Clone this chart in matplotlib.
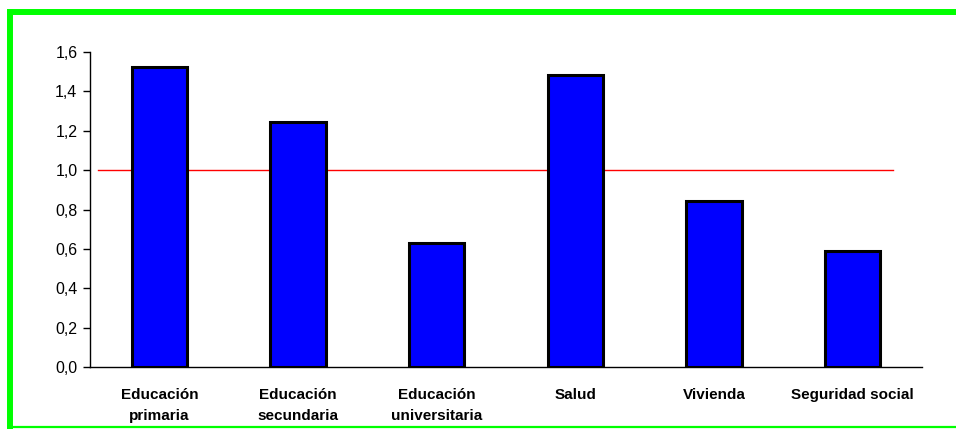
import matplotlib
matplotlib.use("Agg")
import matplotlib.pyplot as plt
from matplotlib.lines import Line2D

categories = ["Educación\nprimaria", "Educación\nsecundaria", "Educación\nuniversitaria",
              "Salud", "Vivienda", "Seguridad social"]
values = [1.525, 1.245, 0.632, 1.485, 0.843, 0.59]
reference_value = 1.0
yticks = [0.0, 0.2, 0.4, 0.6, 0.8, 1.0, 1.2, 1.4, 1.6]
ytick_labels = ["0,0", "0,2", "0,4", "0,6", "0,8", "1,0", "1,2", "1,4", "1,6"]

plt.rcParams['font.family'] = ['Liberation Sans', 'DejaVu Sans']

W, H = 956, 429
fig = plt.figure(figsize=(W / 100, H / 100), dpi=100)
fig.patch.set_facecolor('white')

ax = fig.add_axes([90 / W, 1 - 367 / H, (922 - 90) / W, (367 - 52) / H])
x = list(range(len(categories)))
ax.bar(x, values, width=0.4, color='#0000FF', edgecolor='black', linewidth=2.2, zorder=3)
ax.plot([-0.44, 5.29], [reference_value, reference_value], color='#FF0000', linewidth=1.0, zorder=2)

ax.set_xlim(-0.5, 5.5)
ax.set_ylim(0, 1.6)
ax.set_yticks(yticks)
ax.set_yticklabels(ytick_labels, fontsize=11.5)
ax.set_xticks(x)
ax.set_xticklabels(categories, fontsize=11, fontweight='bold', linespacing=1.65)
ax.tick_params(axis='x', length=0, pad=15)
ax.tick_params(axis='y', length=5, width=1, direction='out', pad=4)
for s in ['top', 'right']:
    ax.spines[s].set_visible(False)
ax.spines['left'].set_linewidth(1.0)
ax.spines['bottom'].set_linewidth(1.0)

# green frame (partially cut off on right and bottom)
green = '#00FF00'
fig.add_artist(Line2D([7 / W, 1.0], [1 - 12 / H, 1 - 12 / H], transform=fig.transFigure,
                      color=green, linewidth=4.3, solid_capstyle='butt'))
fig.add_artist(Line2D([10 / W, 10 / W], [1 - 9 / H, 0.0], transform=fig.transFigure,
                      color=green, linewidth=4.3, solid_capstyle='butt'))
fig.add_artist(Line2D([7 / W, 1.0], [1.6 / H, 1.6 / H], transform=fig.transFigure,
                      color=green, linewidth=1.6, solid_capstyle='butt'))

fig.savefig("out.png", dpi=100, facecolor='white')
